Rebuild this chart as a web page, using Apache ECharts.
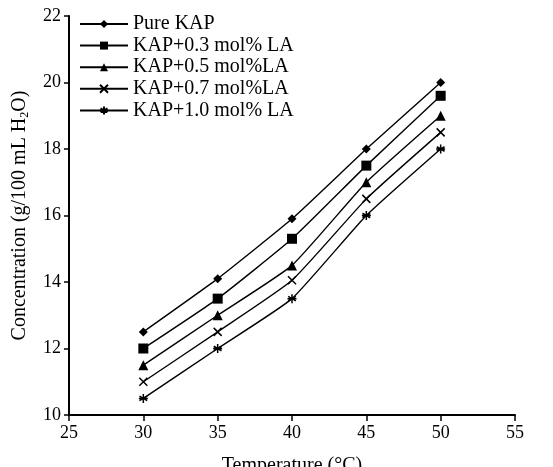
<!DOCTYPE html>
<html>
<head>
  <meta charset="UTF-8">
  <title>KAP solubility</title>
  <script src="https://cdn.jsdelivr.net/npm/echarts@6/dist/echarts.min.js"></script>
  <style>
    html, body { margin: 0; padding: 0; background: #fff; }
    #chart { width: 553px; height: 467px; }
  </style>
</head>
<body>
  <div id="chart"></div>
  <script>
    // data
    var temps = [30, 35, 40, 45, 50];
    var seriesNames = ['Pure KAP', 'KAP+0.3 mol% LA', 'KAP+0.5 mol%LA', 'KAP+0.7 mol%LA', 'KAP+1.0 mol% LA'];
    var pureKAP = [12.5, 14.1, 15.9, 18.0, 20.0];
    var la03 = [12.0, 13.5, 15.3, 17.5, 19.6];
    var la05 = [11.5, 13.0, 14.5, 17.0, 19.0];
    var la07 = [11.0, 12.5, 14.05, 16.5, 18.5];
    var la10 = [10.5, 12.0, 13.5, 16.0, 18.0];

    var allValues = [pureKAP, la03, la05, la07, la10];
    var symbols = [
      'diamond',
      'rect',
      'triangle',
      'path://M0,0L10,10M10,0L0,10',
      'path://M5,0L5,10M0.7,2.5L9.3,7.5M9.3,2.5L0.7,7.5M0,5L10,5'
    ];
    var sizes = [9, 10, 10, 8, 9];

    var serif = '"Liberation Serif", "DejaVu Serif", serif';

    var chart = echarts.init(document.getElementById('chart'));

    var series = seriesNames.map(function (name, i) {
      var stroke = i >= 3;
      return {
        name: name,
        type: 'line',
        smooth: 0.15,
        data: temps.map(function (t, j) { return [t, allValues[i][j]]; }),
        symbol: symbols[i],
        symbolSize: sizes[i],
        lineStyle: { color: '#000', width: 1.4 },
        itemStyle: {
          color: '#000',
          borderColor: '#000',
          borderWidth: stroke ? 1.5 : 0
        }
      };
    });

    chart.setOption({
      animation: false,
      backgroundColor: '#fff',
      textStyle: { fontFamily: serif },
      grid: { left: 69, right: 38, top: 16, bottom: 52, containLabel: false, outerBoundsMode: 'none' },
      legend: {
        orient: 'vertical',
        left: 74,
        top: 9,
        itemWidth: 48,
        itemHeight: 10,
        itemGap: 1.6,
        data: seriesNames,
        textStyle: { fontFamily: serif, fontSize: 20, color: '#000' }
      },
      xAxis: {
        type: 'value',
        min: 25,
        max: 55,
        interval: 5,
        name: 'Temperature (°C)',
        nameLocation: 'middle',
        nameGap: 41,
        nameTextStyle: { fontFamily: serif, fontSize: 20, color: '#000' },
        axisLine: { onZero: false, lineStyle: { color: '#000', width: 2 } },
        axisTick: { inside: false, length: 6, lineStyle: { color: '#000', width: 1.5 } },
        axisLabel: { fontFamily: serif, fontSize: 18, color: '#000', margin: 9 },
        splitLine: { show: false }
      },
      yAxis: {
        type: 'value',
        min: 10,
        max: 22,
        interval: 2,
        name: '{a|Concentration (g/100 mL H}{s|2}{a|O)}',
        nameLocation: 'middle',
        nameGap: 38,
        nameTextStyle: {
          rich: {
            a: { fontFamily: serif, fontSize: 20, color: '#000' },
            s: { fontFamily: serif, fontSize: 12, color: '#000', verticalAlign: 'bottom', padding: [10, 0, 0, 0] }
          }
        },
        axisLine: { lineStyle: { color: '#000', width: 2 } },
        axisTick: { inside: false, length: 5, lineStyle: { color: '#000', width: 1.5 } },
        axisLabel: { fontFamily: serif, fontSize: 18, color: '#000', margin: 8 },
        splitLine: { show: false }
      },
      series: series
    });
  </script>
</body>
</html>
